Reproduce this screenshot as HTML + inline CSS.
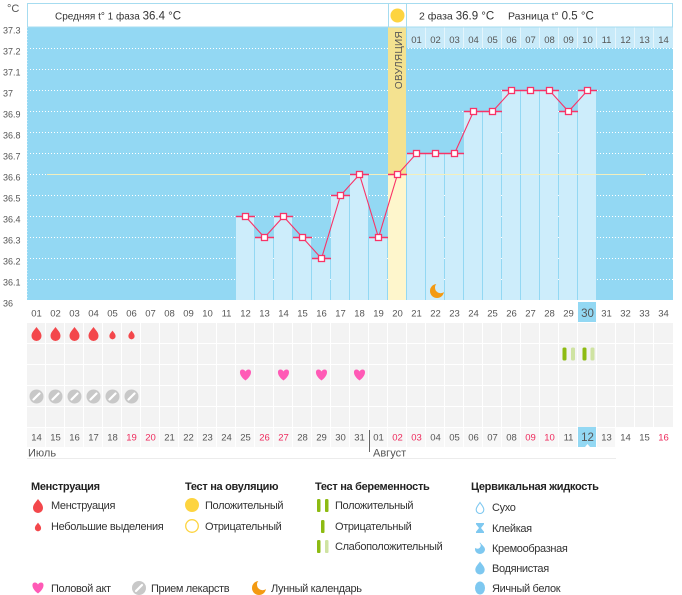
<!DOCTYPE html>
<html><head><meta charset="utf-8"><style>
html,body{margin:0;padding:0;background:#fff;}
svg{display:block;font-family:"Liberation Sans","DejaVu Sans",sans-serif;}
</style></head><body>
<svg width="682" height="595" viewBox="0 0 682 595" xmlns="http://www.w3.org/2000/svg">
<defs>
<mask id="moonm" maskUnits="userSpaceOnUse" x="-10" y="-10" width="20" height="20"><rect x="-10" y="-10" width="20" height="20" fill="#fff"/><circle cx="3.6" cy="-3.4" r="5.6" fill="#000"/></mask>
<mask id="cremm" maskUnits="userSpaceOnUse" x="-10" y="-10" width="20" height="20"><rect x="-10" y="-10" width="20" height="20" fill="#fff"/><circle cx="-2.5" cy="-2.5" r="3.2" fill="#000"/></mask>
</defs>
<rect width="682" height="595" fill="#fff"/>
<!-- chart bg -->
<rect x="27" y="27" width="646" height="273" fill="#93d8f3"/>
<line x1="27.5" y1="27" x2="27.5" y2="300" stroke="#c2e9f8" stroke-dasharray="1 2"/>
<path d="M30 48.5H673M30 69.5H673M30 90.5H673M30 111.5H673M30 132.5H673M30 153.5H673M30 174.5H673M30 195.5H673M30 216.5H673M30 237.5H673M30 258.5H673M30 279.5H673M30 300.5H673" stroke="#fff" stroke-width="1" stroke-dasharray="1 2" fill="none"/>
<!-- bars -->
<g fill="#cdedfb">
<rect x="236" y="216" width="18" height="84"/>
<rect x="255" y="237" width="18" height="63"/>
<rect x="274" y="216" width="18" height="84"/>
<rect x="293" y="237" width="18" height="63"/>
<rect x="312" y="258" width="18" height="42"/>
<rect x="331" y="195" width="18" height="105"/>
<rect x="350" y="174" width="18" height="126"/>
<rect x="369" y="237" width="18" height="63"/>
<rect x="407" y="153" width="18" height="147"/>
<rect x="426" y="153" width="18" height="147"/>
<rect x="445" y="153" width="18" height="147"/>
<rect x="464" y="111" width="18" height="189"/>
<rect x="483" y="111" width="18" height="189"/>
<rect x="502" y="90" width="18" height="210"/>
<rect x="521" y="90" width="18" height="210"/>
<rect x="540" y="90" width="18" height="210"/>
<rect x="559" y="111" width="18" height="189"/>
<rect x="578" y="90" width="18" height="210"/>
</g>
<!-- ovulation column -->
<rect x="388" y="27" width="18" height="147" fill="#f4e290"/>
<rect x="388" y="174" width="18" height="126" fill="#fef6cc"/>
<text transform="translate(402,60) rotate(-90)" text-anchor="middle" font-size="10" fill="#555" letter-spacing="0.3">ОВУЛЯЦИЯ</text>
<!-- top number row -->
<rect x="407" y="27" width="266" height="21" fill="#c8eaf9"/>
<g fill="#e4f5fc">
<rect x="425" y="27" width="1" height="21"/><rect x="444" y="27" width="1" height="21"/><rect x="463" y="27" width="1" height="21"/><rect x="482" y="27" width="1" height="21"/><rect x="501" y="27" width="1" height="21"/><rect x="520" y="27" width="1" height="21"/><rect x="539" y="27" width="1" height="21"/><rect x="558" y="27" width="1" height="21"/><rect x="577" y="27" width="1" height="21"/><rect x="596" y="27" width="1" height="21"/><rect x="615" y="27" width="1" height="21"/><rect x="634" y="27" width="1" height="21"/><rect x="653" y="27" width="1" height="21"/>
</g>
<g font-size="9.5" fill="#555" text-anchor="middle">
<text x="416.5" y="43">01</text><text x="435.5" y="43">02</text><text x="454.5" y="43">03</text><text x="473.5" y="43">04</text><text x="492.5" y="43">05</text><text x="511.5" y="43">06</text><text x="530.5" y="43">07</text><text x="549.5" y="43">08</text><text x="568.5" y="43">09</text><text x="587.5" y="43">10</text><text x="606.5" y="43">11</text><text x="625.5" y="43">12</text><text x="644.5" y="43">13</text><text x="663.5" y="43">14</text>
</g>
<!-- coverline -->
<line x1="47" y1="174.5" x2="645" y2="174.5" stroke="#f3efbd" stroke-width="1"/>
<!-- header -->
<rect x="27.5" y="3.5" width="361" height="23.5" fill="#fff" stroke="#a6dcf0"/>
<rect x="388.5" y="3.5" width="18" height="23.5" fill="#fff" stroke="#a6dcf0"/>
<rect x="406.5" y="3.5" width="266" height="23.5" fill="#fff" stroke="#a6dcf0"/>
<circle cx="397.5" cy="15.5" r="7" fill="#fdd440"/>
<text x="55" y="19.5" font-size="10" fill="#333">Средняя t° 1 фаза <tspan font-size="11.5">36.4 °C</tspan></text>
<text x="419" y="19.5" font-size="10.5" fill="#333">2 фаза <tspan font-size="11.5">36.9 °C</tspan></text>
<text x="508" y="19.5" font-size="10.5" fill="#333">Разница t° <tspan font-size="11.5">0.5 °C</tspan></text>
<text x="7" y="12" font-size="11" fill="#555">°C</text>
<!-- y labels -->
<g font-size="9" fill="#555">
<text x="3" y="33.5">37.3</text><text x="3" y="54.5">37.2</text><text x="3" y="75.5">37.1</text><text x="3" y="96.5">37</text><text x="3" y="117.5">36.9</text><text x="3" y="138.5">36.8</text><text x="3" y="159.5">36.7</text><text x="3" y="180.5">36.6</text><text x="3" y="201.5">36.5</text><text x="3" y="222.5">36.4</text><text x="3" y="243.5">36.3</text><text x="3" y="264.5">36.2</text><text x="3" y="285.5">36.1</text><text x="3" y="306.5">36</text>
</g>
<!-- series -->
<g stroke="#f93367" fill="none">
<path stroke-width="1.6" d="M236 216.5h19M255 237.5h19M274 216.5h19M293 237.5h19M312 258.5h19M331 195.5h19M350 174.5h19M369 237.5h19M388 174.5h19M407 153.5h19M426 153.5h19M445 153.5h19M464 111.5h19M483 111.5h19M502 90.5h19M521 90.5h19M540 90.5h19M559 111.5h19M578 90.5h19"/>
<polyline stroke-width="1.1" points="245.5,216.5 264.5,237.5 283.5,216.5 302.5,237.5 321.5,258.5 340.5,195.5 359.5,174.5 378.5,237.5 397.5,174.5 416.5,153.5 435.5,153.5 454.5,153.5 473.5,111.5 492.5,111.5 511.5,90.5 530.5,90.5 549.5,90.5 568.5,111.5 587.5,90.5"/>
</g>
<g stroke="#f93367" stroke-width="1.3" fill="#fff">
<rect x="242.5" y="213.5" width="6" height="6"/><rect x="261.5" y="234.5" width="6" height="6"/><rect x="280.5" y="213.5" width="6" height="6"/><rect x="299.5" y="234.5" width="6" height="6"/><rect x="318.5" y="255.5" width="6" height="6"/><rect x="337.5" y="192.5" width="6" height="6"/><rect x="356.5" y="171.5" width="6" height="6"/><rect x="375.5" y="234.5" width="6" height="6"/><rect x="394.5" y="171.5" width="6" height="6"/><rect x="413.5" y="150.5" width="6" height="6"/><rect x="432.5" y="150.5" width="6" height="6"/><rect x="451.5" y="150.5" width="6" height="6"/><rect x="470.5" y="108.5" width="6" height="6"/><rect x="489.5" y="108.5" width="6" height="6"/><rect x="508.5" y="87.5" width="6" height="6"/><rect x="527.5" y="87.5" width="6" height="6"/><rect x="546.5" y="87.5" width="6" height="6"/><rect x="565.5" y="108.5" width="6" height="6"/><rect x="584.5" y="87.5" width="6" height="6"/>
</g>
<!-- moon in chart -->
<g transform="translate(437,291)"><circle r="7" fill="#f39a12" mask="url(#moonm)"/></g>
<!-- x labels -->
<rect x="578" y="302" width="18" height="20" fill="#93d8f3"/>
<g font-size="9.5" fill="#555" text-anchor="middle">
<text x="36.5" y="316.5">01</text><text x="55.5" y="316.5">02</text><text x="74.5" y="316.5">03</text><text x="93.5" y="316.5">04</text><text x="112.5" y="316.5">05</text><text x="131.5" y="316.5">06</text><text x="150.5" y="316.5">07</text><text x="169.5" y="316.5">08</text><text x="188.5" y="316.5">09</text><text x="207.5" y="316.5">10</text><text x="226.5" y="316.5">11</text><text x="245.5" y="316.5">12</text><text x="264.5" y="316.5">13</text><text x="283.5" y="316.5">14</text><text x="302.5" y="316.5">15</text><text x="321.5" y="316.5">16</text><text x="340.5" y="316.5">17</text><text x="359.5" y="316.5">18</text><text x="378.5" y="316.5">19</text><text x="397.5" y="316.5">20</text><text x="416.5" y="316.5">21</text><text x="435.5" y="316.5">22</text><text x="454.5" y="316.5">23</text><text x="473.5" y="316.5">24</text><text x="492.5" y="316.5">25</text><text x="511.5" y="316.5">26</text><text x="530.5" y="316.5">27</text><text x="549.5" y="316.5">28</text><text x="568.5" y="316.5">29</text><text x="587.5" y="317" font-size="11.5">30</text><text x="606.5" y="316.5">31</text><text x="625.5" y="316.5">32</text><text x="644.5" y="316.5">33</text><text x="663.5" y="316.5">34</text>
</g>
<!-- icon grid -->
<rect x="27" y="323" width="646" height="104" fill="#f3f3f3"/>
<g fill="#fff">
<rect x="27" y="343" width="646" height="1"/><rect x="27" y="364" width="646" height="1"/><rect x="27" y="385" width="646" height="1"/><rect x="27" y="406" width="646" height="1"/>
</g>
<rect x="27" y="428" width="589" height="19" fill="#f7f7f7"/>
<g fill="#fff">
<rect x="45" y="323" width="1" height="124"/><rect x="64" y="323" width="1" height="124"/><rect x="83" y="323" width="1" height="124"/><rect x="102" y="323" width="1" height="124"/><rect x="121" y="323" width="1" height="124"/><rect x="140" y="323" width="1" height="124"/><rect x="159" y="323" width="1" height="124"/><rect x="178" y="323" width="1" height="124"/><rect x="197" y="323" width="1" height="124"/><rect x="216" y="323" width="1" height="124"/><rect x="235" y="323" width="1" height="124"/><rect x="254" y="323" width="1" height="124"/><rect x="273" y="323" width="1" height="124"/><rect x="292" y="323" width="1" height="124"/><rect x="311" y="323" width="1" height="124"/><rect x="330" y="323" width="1" height="124"/><rect x="349" y="323" width="1" height="124"/><rect x="368" y="323" width="1" height="124"/><rect x="387" y="323" width="1" height="124"/><rect x="406" y="323" width="1" height="124"/><rect x="425" y="323" width="1" height="124"/><rect x="444" y="323" width="1" height="124"/><rect x="463" y="323" width="1" height="124"/><rect x="482" y="323" width="1" height="124"/><rect x="501" y="323" width="1" height="124"/><rect x="520" y="323" width="1" height="124"/><rect x="539" y="323" width="1" height="124"/><rect x="558" y="323" width="1" height="124"/><rect x="577" y="323" width="1" height="124"/><rect x="596" y="323" width="1" height="124"/><rect x="615" y="323" width="1" height="124"/><rect x="634" y="323" width="1" height="104"/><rect x="653" y="323" width="1" height="104"/>
</g>
<!-- drops -->
<g fill="#f3474b">
<path transform="translate(36.5,334)" d="M0,-7 C2.5,-3.5 5,-1.5 5,2 A5,5 0 0 1 -5,2 C-5,-1.5 -2.5,-3.5 0,-7Z"/>
<path transform="translate(55.5,334)" d="M0,-7 C2.5,-3.5 5,-1.5 5,2 A5,5 0 0 1 -5,2 C-5,-1.5 -2.5,-3.5 0,-7Z"/>
<path transform="translate(74.5,334)" d="M0,-7 C2.5,-3.5 5,-1.5 5,2 A5,5 0 0 1 -5,2 C-5,-1.5 -2.5,-3.5 0,-7Z"/>
<path transform="translate(93.5,334)" d="M0,-7 C2.5,-3.5 5,-1.5 5,2 A5,5 0 0 1 -5,2 C-5,-1.5 -2.5,-3.5 0,-7Z"/>
<path transform="translate(112.5,335) scale(0.62)" d="M0,-7 C2.5,-3.5 5,-1.5 5,2 A5,5 0 0 1 -5,2 C-5,-1.5 -2.5,-3.5 0,-7Z"/>
<path transform="translate(131.5,335) scale(0.62)" d="M0,-7 C2.5,-3.5 5,-1.5 5,2 A5,5 0 0 1 -5,2 C-5,-1.5 -2.5,-3.5 0,-7Z"/>
</g>
<!-- pregnancy tests -->
<rect x="562.5" y="347.5" width="4" height="13" rx="1.5" fill="#8dbb12"/>
<rect x="571" y="347.5" width="4" height="13" rx="1.5" fill="#cfe3a2"/>
<rect x="582.5" y="347.5" width="4" height="13" rx="1.5" fill="#8dbb12"/>
<rect x="590.5" y="347.5" width="4" height="13" rx="1.5" fill="#cfe3a2"/>
<!-- hearts -->
<g fill="#ff5ab6">
<path transform="translate(245.5,375)" d="M0,5.5 C-7,0.5 -6.5,-5.5 -3.2,-5.5 C-1.6,-5.5 -0.5,-4.5 0,-3.5 C0.5,-4.5 1.6,-5.5 3.2,-5.5 C6.5,-5.5 7,0.5 0,5.5Z"/>
<path transform="translate(283.5,375)" d="M0,5.5 C-7,0.5 -6.5,-5.5 -3.2,-5.5 C-1.6,-5.5 -0.5,-4.5 0,-3.5 C0.5,-4.5 1.6,-5.5 3.2,-5.5 C6.5,-5.5 7,0.5 0,5.5Z"/>
<path transform="translate(321.5,375)" d="M0,5.5 C-7,0.5 -6.5,-5.5 -3.2,-5.5 C-1.6,-5.5 -0.5,-4.5 0,-3.5 C0.5,-4.5 1.6,-5.5 3.2,-5.5 C6.5,-5.5 7,0.5 0,5.5Z"/>
<path transform="translate(359.5,375)" d="M0,5.5 C-7,0.5 -6.5,-5.5 -3.2,-5.5 C-1.6,-5.5 -0.5,-4.5 0,-3.5 C0.5,-4.5 1.6,-5.5 3.2,-5.5 C6.5,-5.5 7,0.5 0,5.5Z"/>
</g>
<!-- pills -->
<g>
<circle cx="36.5" cy="396.5" r="7" fill="#c8c8c8"/><circle cx="55.5" cy="396.5" r="7" fill="#c8c8c8"/><circle cx="74.5" cy="396.5" r="7" fill="#c8c8c8"/><circle cx="93.5" cy="396.5" r="7" fill="#c8c8c8"/><circle cx="112.5" cy="396.5" r="7" fill="#c8c8c8"/><circle cx="131.5" cy="396.5" r="7" fill="#c8c8c8"/>
<path stroke="#fff" stroke-width="2.2" stroke-linecap="round" d="M33.5 399.5l6 -6M52.5 399.5l6 -6M71.5 399.5l6 -6M90.5 399.5l6 -6M109.5 399.5l6 -6M128.5 399.5l6 -6"/>
</g>
<!-- date row -->
<rect x="578" y="427" width="18" height="20" fill="#93d8f3"/>
<path d="M585 447 l2.5 -3 l2.5 3z" fill="#fff"/>
<g font-size="9.5" fill="#555" text-anchor="middle">
<text x="36.5" y="440.5">14</text><text x="55.5" y="440.5">15</text><text x="74.5" y="440.5">16</text><text x="93.5" y="440.5">17</text><text x="112.5" y="440.5">18</text><text x="131.5" y="440.5" fill="#ee2a5c">19</text><text x="150.5" y="440.5" fill="#ee2a5c">20</text><text x="169.5" y="440.5">21</text><text x="188.5" y="440.5">22</text><text x="207.5" y="440.5">23</text><text x="226.5" y="440.5">24</text><text x="245.5" y="440.5">25</text><text x="264.5" y="440.5" fill="#ee2a5c">26</text><text x="283.5" y="440.5" fill="#ee2a5c">27</text><text x="302.5" y="440.5">28</text><text x="321.5" y="440.5">29</text><text x="340.5" y="440.5">30</text><text x="359.5" y="440.5">31</text><text x="378.5" y="440.5">01</text><text x="397.5" y="440.5" fill="#ee2a5c">02</text><text x="416.5" y="440.5" fill="#ee2a5c">03</text><text x="435.5" y="440.5">04</text><text x="454.5" y="440.5">05</text><text x="473.5" y="440.5">06</text><text x="492.5" y="440.5">07</text><text x="511.5" y="440.5">08</text><text x="530.5" y="440.5" fill="#ee2a5c">09</text><text x="549.5" y="440.5" fill="#ee2a5c">10</text><text x="568.5" y="440.5">11</text><text x="587.5" y="441" font-size="11.5">12</text><text x="606.5" y="440.5">13</text><text x="625.5" y="440.5">14</text><text x="644.5" y="440.5">15</text><text x="663.5" y="440.5" fill="#ee2a5c">16</text>
</g>
<line x1="369.5" y1="430" x2="369.5" y2="452" stroke="#666"/>
<line x1="27" y1="458.5" x2="616" y2="458.5" stroke="#ececec"/>
<text x="28" y="456.5" font-size="11" fill="#555">Июль</text>
<text x="373" y="456.5" font-size="11" fill="#555">Август</text>
<!-- legend -->
<g font-size="11" font-weight="bold" fill="#222" letter-spacing="-0.3">
<text x="31" y="490">Менструация</text>
<text x="185" y="490">Тест на овуляцию</text>
<text x="315" y="490">Тест на беременность</text>
<text x="471" y="490">Цервикальная жидкость</text>
</g>
<g font-size="11" fill="#333" letter-spacing="-0.35">
<text x="51" y="509">Менструация</text>
<text x="51" y="530">Небольшие выделения</text>
<text x="205" y="509">Положительный</text>
<text x="205" y="530">Отрицательный</text>
<text x="335" y="509">Положительный</text>
<text x="335" y="530">Отрицательный</text>
<text x="335" y="550">Слабоположительный</text>
<text x="492" y="511">Сухо</text>
<text x="492" y="532">Клейкая</text>
<text x="492" y="552">Кремообразная</text>
<text x="492" y="572">Водянистая</text>
<text x="492" y="592">Яичный белок</text>
<text x="51" y="592">Половой акт</text>
<text x="151" y="592">Прием лекарств</text>
<text x="271" y="592">Лунный календарь</text>
</g>
<g fill="#f3474b">
<path transform="translate(38,506)" d="M0,-7 C2.5,-3.5 5,-1.5 5,2 A5,5 0 0 1 -5,2 C-5,-1.5 -2.5,-3.5 0,-7Z"/>
<path transform="translate(38,527) scale(0.62)" d="M0,-7 C2.5,-3.5 5,-1.5 5,2 A5,5 0 0 1 -5,2 C-5,-1.5 -2.5,-3.5 0,-7Z"/>
</g>
<circle cx="192" cy="505" r="7" fill="#fdd440"/>
<circle cx="192" cy="526" r="6.3" fill="#fff" stroke="#fdd440" stroke-width="1.3"/>
<rect x="317" y="499" width="3.5" height="13" rx="1.3" fill="#8dbb12"/>
<rect x="325" y="499" width="3.5" height="13" rx="1.3" fill="#8dbb12"/>
<rect x="321" y="520" width="3.5" height="13" rx="1.3" fill="#8dbb12"/>
<rect x="317" y="540" width="3.5" height="13" rx="1.3" fill="#8dbb12"/>
<rect x="325" y="540" width="3.5" height="13" rx="1.3" fill="#cfe3a2"/>
<!-- cervical icons -->
<path transform="translate(480,508)" d="M0,-5.5 C2,-2.5 3.8,-1 3.8,1.7 A3.8,3.8 0 0 1 -3.8,1.7 C-3.8,-1 -2,-2.5 0,-5.5Z" fill="#fff" stroke="#7ec8f0" stroke-width="1.1"/>
<path transform="translate(480,528)" d="M-4,-5 H4 V-3.8 L1,0 L4,3.8 V5 H-4 V3.8 L-1,0 L-4,-3.8Z" fill="#7ec8f0"/>
<g transform="translate(480,548)"><path d="M0,-5.5 C2.5,-2.5 5,-1 5,1.5 A5,4.5 0 0 1 -5,1.5 C-5,-1 -2.5,-2.5 0,-5.5Z" fill="#7ec8f0" mask="url(#cremm)"/></g>
<path transform="translate(480,568)" d="M0,-6.5 C2.5,-3 4.7,-1.2 4.7,1.8 A4.7,4.7 0 0 1 -4.7,1.8 C-4.7,-1.2 -2.5,-3 0,-6.5Z" fill="#7ec8f0"/>
<ellipse cx="480" cy="588" rx="5" ry="6.5" fill="#7ec8f0"/>
<path transform="translate(38,588)" d="M0,5.5 C-7,0.5 -6.5,-5.5 -3.2,-5.5 C-1.6,-5.5 -0.5,-4.5 0,-3.5 C0.5,-4.5 1.6,-5.5 3.2,-5.5 C6.5,-5.5 7,0.5 0,5.5Z" fill="#ff5ab6"/>
<circle cx="139" cy="588" r="7" fill="#c8c8c8"/>
<path stroke="#fff" stroke-width="2.2" stroke-linecap="round" d="M136 591l6 -6"/>
<g transform="translate(259,588)"><circle r="7" fill="#f39a12" mask="url(#moonm)"/></g>
</svg>
</body></html>
